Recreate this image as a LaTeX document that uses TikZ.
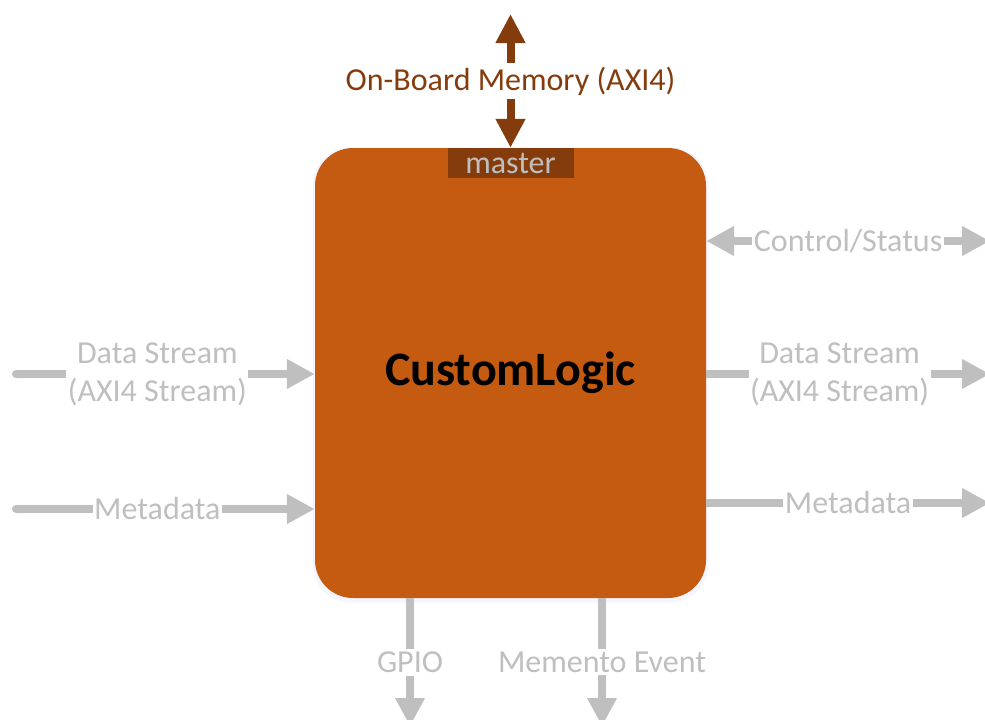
\documentclass[tikz,border=0pt]{standalone}
\usepackage{fontspec}
\setmainfont{Carlito}
\usetikzlibrary{positioning,shapes,shadows,arrows.meta}
\definecolor{logicorange}{HTML}{C55A11}
\definecolor{masterbrown}{HTML}{843C0C}
\definecolor{portgray}{HTML}{BFBFBF}

\begin{document}
\begin{tikzpicture}[x=1pt,y=-1pt,
  logicbox/.style={fill=logicorange, rounded corners=38pt, minimum width=391pt, minimum height=450pt,
    font=\fontsize{48}{50}\selectfont\bfseries, text=black,
    drop shadow={shadow xshift=0pt, shadow yshift=-2pt, shadow scale=1.012, fill=blue!8, opacity=.5}},
  mastertab/.style={fill=masterbrown, text=portgray, minimum width=126pt, minimum height=30pt, inner sep=0pt,
    font=\fontsize{32}{32}\selectfont},
  port/.style={draw=portgray, line width=8pt, -{Triangle[length=28pt,width=28pt]}},
  portin/.style={port, {Round Cap}-{Triangle[length=28pt,width=28pt]}},
  portboth/.style={port, {Triangle[length=28pt,width=28pt]}-{Triangle[length=28pt,width=28pt]}},
  portlabel/.style={fill=white, text=portgray, font=\fontsize{32}{38}\selectfont, align=center,
    inner xsep=1.5pt, inner ysep=3pt},
  memport/.style={draw=masterbrown, line width=8pt, {Triangle[length=29pt,width=28pt]}-{Triangle[length=29pt,width=28pt]}},
  memlabel/.style={fill=white, text=masterbrown, font=\fontsize{32}{38}\selectfont, inner sep=4pt}]
\useasboundingbox (0,0) rectangle (985,720);

% the block
\node[logicbox] (logic) at (510.5,373) {CustomLogic};
\node[mastertab, anchor=north] (master) at (logic.north) {master};

% memory
\coordinate (memtop) at (510.5,14);
\draw[memport] (memtop) -- node[memlabel]{On-Board Memory (AXI4)} (master.north);

% inputs
\coordinate (dsin) at (12,374);
\coordinate (mdin) at (12,509);
\draw[portin] (dsin) -- node[portlabel, pos=.48]{Data Stream\\(AXI4 Stream)} (logic.west |- dsin);
\draw[portin] (mdin) -- node[portlabel, pos=.48]{Metadata} (logic.west |- mdin);

% outputs
\coordinate (csout) at (990,241);
\coordinate (dsout) at (990,374);
\coordinate (mdout) at (990,503);
\draw[portboth] (logic.east |- csout) -- node[portlabel]{Control/Status} (csout);
\draw[port] (logic.east |- dsout) -- node[portlabel, pos=.47]{Data Stream\\(AXI4 Stream)} (dsout);
\draw[port] (logic.east |- mdout) -- node[portlabel]{Metadata} (mdout);

% bottom
\coordinate (gpio) at (410,726);
\coordinate (memento) at (602,726);
\draw[port] (logic.south -| gpio) -- node[portlabel]{GPIO} (gpio);
\draw[port] (logic.south -| memento) -- node[portlabel]{Memento Event} (memento);
\end{tikzpicture}
\end{document}
